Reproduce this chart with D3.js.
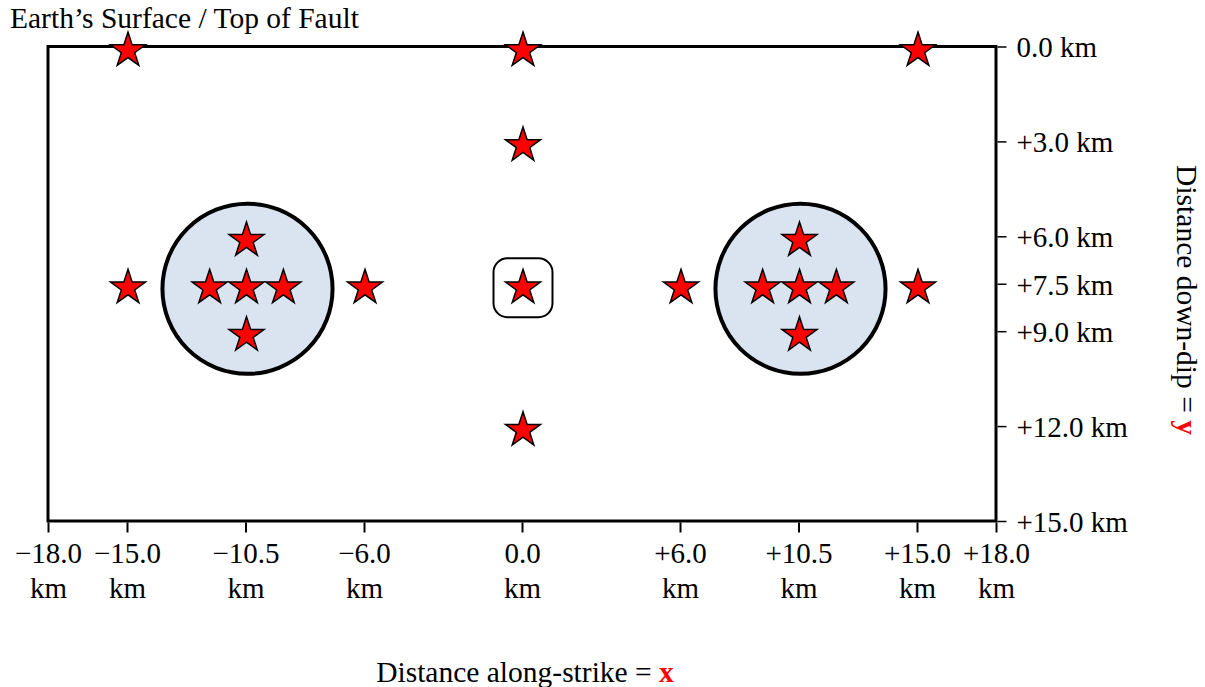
<!DOCTYPE html>
<html>
<head>
<meta charset="utf-8">
<script src="https://cdn.jsdelivr.net/npm/d3@7"></script>
<style>
  body { margin: 0; background: #fff; }
  svg { display: block; font-family: "Liberation Serif", "Times New Roman", serif; }
</style>
</head>
<body>
<svg id="fault"></svg>
<script>
// Fault plane sketch
const xTicks = [-18, -15, -10.5, -6, 0, 6, 10.5, 15, 18];
const yTicks = [0, 3, 6, 7.5, 9, 12, 15];

// stars (along-strike km, down-dip km)
const starX = [-15, 0, 15, 0, -15, -6, 0, 0, 6, 15,
               -10.5, -11.9, -10.5, -9.1, -10.5,
               10.5, 9.1, 10.5, 11.9, 10.5];
const starY = [0, 0, 0, 3, 7.5, 7.5, 7.5, 12, 7.5, 7.5,
               6, 7.5, 7.5, 7.5, 9,
               6, 7.5, 7.5, 7.5, 9];

// shaded clusters and the boxed hypocentre
const clusterX = [-10.5, 10.5];
const clusterY = [7.5, 7.5];
const boxX = [0];
const boxY = [7.5];

const width = 1205, height = 687;
const svg = d3.select("#fault").attr("width", width).attr("height", height);

const x = d3.scaleLinear().domain([-18, 18]).range([48, 996]);
const y = d3.scaleLinear().domain([0, 15]).range([46.5, 521]);

const fmt = v => (v > 0 ? "+" : v < 0 ? "\u2212" : "") + Math.abs(v).toFixed(1);

// frame
svg.append("rect")
    .attr("x", x(-18)).attr("y", y(0))
    .attr("width", x(18) - x(-18)).attr("height", y(15) - y(0))
    .attr("fill", "none").attr("stroke", "#000").attr("stroke-width", 3);

// clusters
svg.selectAll("circle.cluster")
    .data(clusterX.map((d, i) => [d, clusterY[i]]))
    .enter().append("circle")
    .attr("class", "cluster")
    .attr("cx", d => x(d[0]) + 2)
    .attr("cy", d => y(d[1]) + 5)
    .attr("r", x(3.23) - x(0))
    .attr("fill", "#dae3f0")
    .attr("stroke", "#000")
    .attr("stroke-width", 4);

// rounded box
const boxHalf = x(1.12) - x(0);
svg.selectAll("rect.box")
    .data(boxX.map((d, i) => [d, boxY[i]]))
    .enter().append("rect")
    .attr("class", "box")
    .attr("x", d => x(d[0]) - boxHalf + 1)
    .attr("y", d => y(d[1]) - boxHalf + 4)
    .attr("width", boxHalf * 2)
    .attr("height", boxHalf * 2)
    .attr("rx", 14)
    .attr("fill", "#fff")
    .attr("stroke", "#000")
    .attr("stroke-width", 2);

// stars
const star = d3.symbol().type(d3.symbolStar).size(380);
svg.selectAll("path.star")
    .data(starX.map((d, i) => [d, starY[i]]))
    .enter().append("path")
    .attr("class", "star")
    .attr("d", star)
    .attr("transform", d => `translate(${x(d[0]) + 1},${y(d[1]) + 4})`)
    .attr("fill", "#ff0000")
    .attr("stroke", "#000")
    .attr("stroke-width", 1.5)
    .attr("stroke-linejoin", "miter");

// x axis
const xAxis = svg.append("g")
    .attr("transform", `translate(0,${y(15) + 1.5})`)
    .call(d3.axisBottom(x).tickValues(xTicks).tickSize(10).tickFormat(""));
xAxis.select(".domain").remove();
xAxis.selectAll(".tick line").attr("stroke-width", 2);
xAxis.selectAll(".tick").each(function(d) {
    const t = d3.select(this).append("text")
        .attr("fill", "#000")
        .attr("font-size", "29px")
        .attr("font-family", "Liberation Serif, serif")
        .attr("text-anchor", "middle");
    t.append("tspan").attr("x", 0).attr("y", 40).text(fmt(d));
    t.append("tspan").attr("x", 0).attr("y", 75).text("km");
});

// y axis
const yAxis = svg.append("g")
    .attr("transform", `translate(${x(18) + 1.5},0)`)
    .call(d3.axisRight(y).tickValues(yTicks).tickSize(9).tickFormat(d => fmt(d) + " km"));
yAxis.select(".domain").remove();
yAxis.selectAll(".tick line").attr("stroke-width", 1.5);
yAxis.selectAll(".tick text")
    .attr("x", 19)
    .attr("dy", "0.36em")
    .attr("fill", "#000")
    .attr("font-size", "29px")
    .attr("font-family", "Liberation Serif, serif");

// titles
svg.append("text")
    .attr("x", 10).attr("y", 28)
    .attr("font-size", "29.5px")
    .text("Earth\u2019s Surface / Top of Fault");

const xl = svg.append("text")
    .attr("x", 525).attr("y", 682)
    .attr("text-anchor", "middle")
    .attr("font-size", "29.5px");
xl.append("tspan").text("Distance along-strike = ");
xl.append("tspan").attr("fill", "#ff0000").attr("font-weight", "bold").text("x");

const yl = svg.append("text")
    .attr("transform", `translate(1177,300) rotate(90)`)
    .attr("text-anchor", "middle")
    .attr("font-size", "29.5px");
yl.append("tspan").text("Distance down-dip = ");
yl.append("tspan").attr("fill", "#ff0000").attr("font-weight", "bold").text("y");
</script>
</body>
</html>
